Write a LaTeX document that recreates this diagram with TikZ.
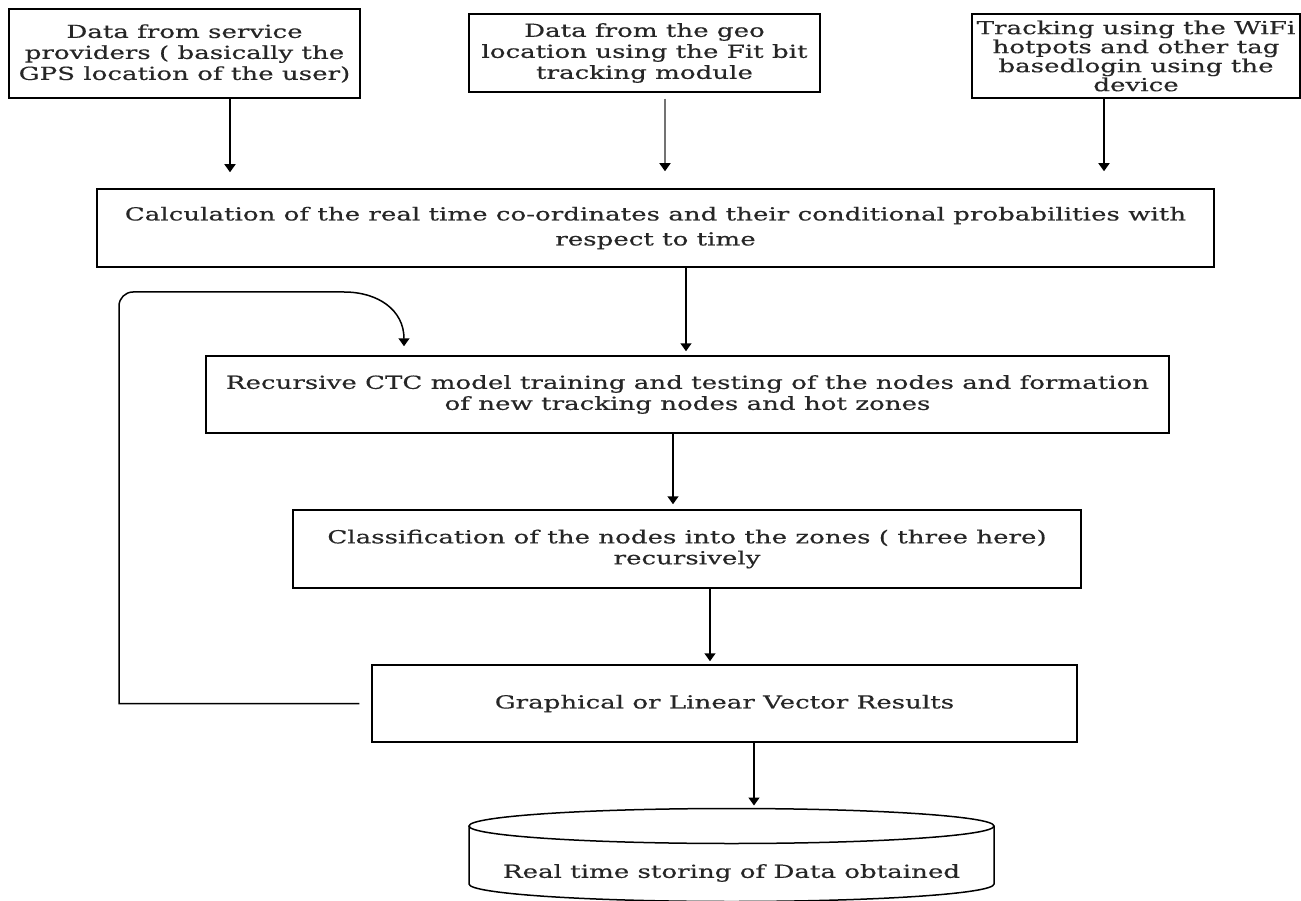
\documentclass[tikz,border=0pt]{standalone}
\usepackage{fontspec}
\setmainfont{DejaVu Serif}[FakeStretch=1.45, FakeBold=0.4]
\usetikzlibrary{arrows.meta}
\begin{document}
\begin{tikzpicture}[x=1pt,y=-1pt,
  box/.style={draw, line width=1.5pt, rectangle, inner sep=0pt, align=center,
    font=\fontsize{18pt}{21pt}\selectfont, text=black!85},
  lbl/.style={inner sep=0pt, align=center, font=\fontsize{18pt}{21pt}\selectfont, text=black!85},
  arr/.style={line width=1.5pt, -{Triangle[width=11pt,length=8pt]}},
]
\useasboundingbox (0,0) rectangle (1301,901);

% input sources
\node[box, minimum width=351pt, minimum height=89pt] (src1) at (184.5,53.5)
  {Data from service\\providers ( basically the\\GPS location of the user)};
\node[box, minimum width=351pt, minimum height=78pt] (src2) at (644.5,53)
  {Data from the geo\\location using the Fit bit\\tracking module};
\node[box, minimum width=328pt, minimum height=84pt,
      font=\fontsize{18pt}{19pt}\selectfont] (src3) at (1136,56)
  {Tracking using the WiFi\\hotpots and other tag\\basedlogin using the\\device};

% processing chain
\node[box, minimum width=1117pt, minimum height=78pt,
      font=\fontsize{18pt}{25pt}\selectfont] (calc) at (655.5,228)
  {Calculation of the real time co-ordinates and their conditional probabilities with\\respect to time};
\node[box, minimum width=963pt, minimum height=77pt] (rec) at (687.5,394.5)
  {Recursive CTC model training and testing of the nodes and formation\\of new tracking nodes and hot zones};
\node[box, minimum width=788pt, minimum height=78pt] (cls) at (687,549)
  {Classification of the nodes into the zones ( three here)\\recursively};
\node[box, minimum width=705pt, minimum height=77pt] (res) at (724.5,703.5)
  {Graphical or Linear Vector Results};

% storage cylinder
\node[lbl] (store) at (731.5,873) {Real time storing of Data obtained};
\coordinate (stTop) at (731.5,826);
\draw[line width=1.5pt] (stTop) ellipse [x radius=262.5pt, y radius=17.5pt];
\draw[line width=1.5pt] (469,826) -- (469,884)
  arc[start angle=180, end angle=360, x radius=262.5pt, y radius=17.5pt] -- (994,826);
\coordinate (stIn) at (731.5,808.5);

% arrow columns
\coordinate (a1) at (230,0);
\coordinate (a2) at (665,0);
\coordinate (a3) at (1104,0);
\coordinate (a4) at (686,0);
\coordinate (a5) at (673,0);
\coordinate (a6) at (710,0);
\coordinate (a7) at (754,0);

\draw[arr, shorten >=16pt] (src1.south -| a1) -- (calc.north -| a1);
\draw[arr, black!55, -{Triangle[width=11pt,length=8pt,black]}, shorten <=6pt, shorten >=17pt] (src2.south -| a2) -- (calc.north -| a2);
\draw[arr, shorten >=17pt] (src3.south -| a3) -- (calc.north -| a3);
\draw[arr, shorten >=4pt] (calc.south -| a4) -- (rec.north -| a4);
\draw[arr, shorten >=5pt] (rec.south -| a5) -- (cls.north -| a5);
\draw[arr, shorten >=3pt] (cls.south -| a6) -- (res.north -| a6);
\draw[arr, shorten >=3pt] (res.south -| a7) -- (stIn -| a7);

% feedback loop
\coordinate (loopL) at (119,292);
\coordinate (loopR) at (330,292);
\coordinate (loopX) at (404,0);
\draw[arr, shorten >=9pt] ([xshift=-12pt]res.west) -- (res.west -| loopL)
  [rounded corners=14pt] -- (loopL) -- (loopR) [sharp corners]
  .. controls (378,292) and (404,310) .. (rec.north -| loopX);
\end{tikzpicture}
\end{document}
